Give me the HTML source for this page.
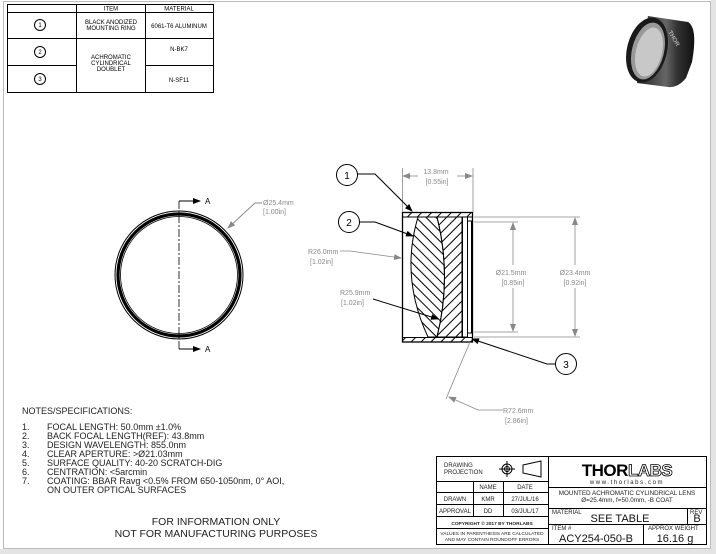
<!DOCTYPE html>
<html><head><meta charset="utf-8"><style>
html,body{margin:0;padding:0;background:#e4e4e4;}
svg{display:block;font-family:"Liberation Sans",sans-serif;}
</style></head><body>
<svg width="716" height="554" viewBox="0 0 716 554" xmlns="http://www.w3.org/2000/svg">
<defs>
<marker id="ar" markerWidth="8" markerHeight="6" refX="7" refY="3" orient="auto" markerUnits="userSpaceOnUse"><path d="M0,0 L8,3 L0,6z" fill="#000"/></marker>
<marker id="ag" markerWidth="8" markerHeight="6" refX="7" refY="3" orient="auto" markerUnits="userSpaceOnUse"><path d="M0,0 L8,3 L0,6z" fill="#888"/></marker>
<pattern id="h1" width="7" height="7" patternUnits="userSpaceOnUse" patternTransform="rotate(45)"><line x1="0.5" y1="0" x2="0.5" y2="7" stroke="#000" stroke-width="1"/></pattern>
<pattern id="h2" width="7" height="7" patternUnits="userSpaceOnUse" patternTransform="rotate(-45)"><line x1="0.5" y1="0" x2="0.5" y2="7" stroke="#000" stroke-width="1"/></pattern>
<linearGradient id="cyl" x1="0" y1="0" x2="1" y2="0"><stop offset="0" stop-color="#222"/><stop offset="0.5" stop-color="#666"/><stop offset="0.7" stop-color="#333"/><stop offset="1" stop-color="#111"/></linearGradient>
</defs>
<rect x="0" y="0" width="711" height="549" fill="#fff"/>
<rect x="3.5" y="1.5" width="707" height="547" fill="none" stroke="#bbb" stroke-width="1"/>

<!-- BOM table -->
<g stroke="#000" stroke-width="1" fill="none">
<rect x="7.5" y="4.5" width="206" height="88"/>
<line x1="7" y1="12.5" x2="213" y2="12.5"/>
<line x1="76.5" y1="4" x2="76.5" y2="92"/>
<line x1="145.5" y1="4" x2="145.5" y2="92"/>
<line x1="7" y1="38.5" x2="213" y2="38.5"/>
<line x1="7" y1="65.5" x2="76" y2="65.5"/>
<line x1="145" y1="65.5" x2="213" y2="65.5"/>
<circle cx="40" cy="25" r="5.5"/><circle cx="40" cy="52" r="5.5"/><circle cx="40" cy="79" r="5.5"/>
</g>
<g font-size="6" text-anchor="middle" fill="#000">
<text x="40" y="27.2">1</text><text x="40" y="54.2">2</text><text x="40" y="81.2">3</text>
<text x="111" y="10.5">ITEM</text><text x="179" y="10.5">MATERIAL</text>
<text x="111" y="24">BLACK ANODIZED</text><text x="111" y="30">MOUNTING RING</text>
<text x="179" y="28">6061-T6 ALUMINUM</text>
<text x="179" y="51">N-BK7</text>
<text x="111" y="59">ACHROMATIC</text><text x="111" y="65">CYLINDRICAL</text><text x="111" y="71">DOUBLET</text>
<text x="179" y="82">N-SF11</text>
</g>

<!-- photo -->
<g>
<path d="M648,16 L688,22 Q698,28 692,62 L686,78 Q678,88 668,87 L637,83 Z" fill="url(#cyl)"/>
<ellipse cx="647" cy="50" rx="20" ry="33" transform="rotate(14 647 50)" fill="#1a1a1a"/>
<ellipse cx="648" cy="51" rx="16" ry="29" transform="rotate(14 648 51)" fill="#999"/>
<ellipse cx="649" cy="52" rx="13" ry="25" transform="rotate(14 649 52)" fill="#c8c8c8"/>
<text x="668" y="32" font-size="6" fill="#ddd" transform="rotate(60 668 32)">THOR</text>
</g>

<!-- front circle -->
<g fill="none">
<circle cx="179" cy="275" r="64" stroke="#000" stroke-width="1"/>
<circle cx="179" cy="275" r="61" stroke="#000" stroke-width="3.2"/>
<circle cx="179" cy="275" r="58.5" stroke="#000" stroke-width="0.8"/>
<line x1="179" y1="201" x2="179" y2="350" stroke="#000" stroke-width="0.8" stroke-dasharray="8,2,2,2"/>
<line x1="179" y1="201" x2="200" y2="201" stroke="#000" marker-end="url(#ar)"/>
<line x1="179" y1="349" x2="200" y2="349" stroke="#000" marker-end="url(#ar)"/>
<polyline points="262,203 255,203 228,228" stroke="#888" marker-end="url(#ag)"/>
</g>
<text x="205" y="204" font-size="8">A</text>
<text x="205" y="352" font-size="8">A</text>
<text x="263" y="205" font-size="7" fill="#888">Ø25.4mm</text>
<text x="263" y="214" font-size="7" fill="#888">[1.00in]</text>

<!-- side view -->
<g stroke="#000" fill="none" stroke-width="1">
<rect x="402.5" y="212.5" width="70" height="4.5" fill="url(#h1)"/>
<rect x="402.5" y="337.5" width="70" height="4.5" fill="url(#h1)"/>
<rect x="402.5" y="212.5" width="70" height="129.5" stroke-width="1.3"/>
<path d="M418,217 Q400,277 428,337 L437,337 Q452,277 437,217 Z" fill="url(#h2)"/>
<path d="M437,217 Q452,277 437,337 L462,337 L462,217 Z" fill="url(#h1)"/>
<rect x="462.5" y="217" width="5" height="120" fill="#fff"/>
<rect x="467.5" y="221" width="4" height="112" fill="#fff"/>
</g>
<g stroke="#888" fill="none" stroke-width="0.8">
<line x1="402.5" y1="168" x2="402.5" y2="212"/>
<line x1="473" y1="168" x2="473" y2="212"/>
<line x1="418" y1="176" x2="403" y2="176" marker-end="url(#ag)"/>
<line x1="457" y1="176" x2="472" y2="176" marker-end="url(#ag)"/>
<line x1="474" y1="222" x2="518" y2="222"/><line x1="474" y1="332" x2="518" y2="332"/>
<line x1="474" y1="217" x2="580" y2="217"/><line x1="474" y1="337" x2="580" y2="337"/>
<line x1="513" y1="265" x2="513" y2="223" marker-end="url(#ag)"/>
<line x1="513" y1="288" x2="513" y2="331" marker-end="url(#ag)"/>
<line x1="575" y1="265" x2="575" y2="218" marker-end="url(#ag)"/>
<line x1="575" y1="288" x2="575" y2="336" marker-end="url(#ag)"/>
<polyline points="340,251 350,251 401,258" marker-end="url(#ag)"/>
<path d="M470,342 Q458,370 446,399"/>
<polyline points="503,410 478,410 449,397" marker-end="url(#ag)"/>
</g>
<g font-size="7" fill="#888" text-anchor="middle">
<text x="436" y="174">13.8mm</text><text x="437" y="184">[0.55in]</text>
<text x="511" y="275">Ø21.5mm</text><text x="513" y="285">[0.85in]</text>
<text x="575" y="275">Ø23.4mm</text><text x="575" y="285">[0.92in]</text>
</g>
<g font-size="7" fill="#888">
<text x="308" y="254">R26.0mm</text><text x="310" y="264">[1.02in]</text>
<text x="340" y="295">R25.9mm</text><text x="341" y="305">[1.02in]</text>
<text x="503" y="413">R72.6mm</text><text x="505" y="423">[2.86in]</text>
</g>
<g stroke="#000" fill="none" stroke-width="1">
<polyline points="373,299 438,319" marker-end="url(#ar)"/>
<circle cx="347" cy="175" r="10.5"/>
<polyline points="357,174 375,174 412,211" marker-end="url(#ar)"/>
<circle cx="349" cy="222" r="10.5"/>
<polyline points="359,222 375,222 413,236" marker-end="url(#ar)"/>
<circle cx="566" cy="364" r="10.5"/>
<polyline points="555,364 547,364 472,339" marker-end="url(#ar)"/>
</g>
<g font-size="10" text-anchor="middle">
<text x="347" y="179">1</text><text x="349" y="226">2</text><text x="566" y="368">3</text>
</g>

<!-- notes -->
<g font-size="9" fill="#222">
<text x="22" y="414">NOTES/SPECIFICATIONS:</text>
<text x="22" y="430">1.</text><text x="47" y="430">FOCAL LENGTH: 50.0mm ±1.0%</text>
<text x="22" y="439">2.</text><text x="47" y="439">BACK FOCAL LENGTH(REF): 43.8mm</text>
<text x="22" y="448">3.</text><text x="47" y="448">DESIGN WAVELENGTH: 855.0nm</text>
<text x="22" y="457">4.</text><text x="47" y="457">CLEAR APERTURE: &gt;Ø21.03mm</text>
<text x="22" y="466">5.</text><text x="47" y="466">SURFACE QUALITY: 40-20 SCRATCH-DIG</text>
<text x="22" y="475">6.</text><text x="47" y="475">CENTRATION: &lt;5arcmin</text>
<text x="22" y="484">7.</text><text x="47" y="484">COATING: BBAR Ravg &lt;0.5% FROM 650-1050nm, 0° AOI,</text>
<text x="47" y="493">ON OUTER OPTICAL SURFACES</text>
</g>
<g font-size="10.5" fill="#222" text-anchor="middle">
<text x="216" y="525">FOR INFORMATION ONLY</text>
<text x="216" y="537">NOT FOR MANUFACTURING PURPOSES</text>
</g>

<!-- title block -->
<g stroke="#000" fill="none" stroke-width="1">
<rect x="436.5" y="456.5" width="270" height="88"/>
<line x1="548.5" y1="456" x2="548.5" y2="544"/>
<line x1="436" y1="481.5" x2="548" y2="481.5"/>
<line x1="436" y1="492.5" x2="548" y2="492.5"/>
<line x1="436" y1="504.5" x2="548" y2="504.5"/>
<line x1="436" y1="516.5" x2="548" y2="516.5"/>
<line x1="436" y1="528.5" x2="548" y2="528.5"/>
<line x1="473.5" y1="481" x2="473.5" y2="516"/>
<line x1="503.5" y1="481" x2="503.5" y2="516"/>
<line x1="548" y1="487.5" x2="706" y2="487.5"/>
<line x1="548" y1="508.5" x2="706" y2="508.5"/>
<line x1="548" y1="524.5" x2="706" y2="524.5"/>
<line x1="687.5" y1="508" x2="687.5" y2="524"/>
<line x1="643.5" y1="524" x2="643.5" y2="544"/>
<circle cx="507" cy="469" r="5"/><circle cx="507" cy="469" r="2.5"/>
<line x1="499" y1="469" x2="515" y2="469"/><line x1="507" y1="461" x2="507" y2="477"/>
<path d="M523,465 L541,461 L541,477 L523,473 Z"/>
</g>
<g font-size="6" fill="#222">
<text x="444" y="467">DRAWING</text><text x="444" y="474">PROJECTION</text>
<text x="488" y="489" text-anchor="middle">NAME</text><text x="525" y="489" text-anchor="middle">DATE</text>
<text x="455" y="501" text-anchor="middle">DRAWN</text><text x="488" y="501" text-anchor="middle">KMR</text><text x="525" y="501" text-anchor="middle">27/JUL/16</text>
<text x="455" y="513" text-anchor="middle">APPROVAL</text><text x="488" y="513" text-anchor="middle">DD</text><text x="525" y="513" text-anchor="middle">03/JUL/17</text>
<text x="492" y="525" text-anchor="middle" font-size="4.8" font-weight="bold">COPYRIGHT © 2017 BY THORLABS</text>
<text x="492" y="535" text-anchor="middle" font-size="4.8">VALUES IN PARENTHESIS ARE CALCULATED</text>
<text x="492" y="541" text-anchor="middle" font-size="4.8">AND MAY CONTAIN ROUNDOFF ERRORS</text>
<text x="627" y="495" text-anchor="middle" font-size="6.3">MOUNTED ACHROMATIC CYLINDRICAL LENS</text>
<text x="627" y="502" text-anchor="middle" font-size="6.3">Ø=25.4mm, f=50.0mm, -B COAT</text>
<text x="552" y="514">MATERIAL</text>
<text x="690" y="514">REV</text>
<text x="552" y="530">ITEM #</text>
<text x="648" y="530">APPROX WEIGHT</text>
<text x="627" y="484" text-anchor="middle" font-size="6" letter-spacing="1.6">www.thorlabs.com</text>
</g>
<text x="627" y="476" text-anchor="middle" font-size="17" font-weight="bold" fill="#000" letter-spacing="-0.5">THOR<tspan fill="#fff" stroke="#000" stroke-width="0.8">LABS</tspan></text>
<g font-size="11" fill="#111" text-anchor="middle">
<text x="620" y="522">SEE TABLE</text>
<text x="697" y="522">B</text>
<text x="596" y="542">ACY254-050-B</text>
<text x="675" y="542">16.16 g</text>
</g>
</svg>
</body></html>
